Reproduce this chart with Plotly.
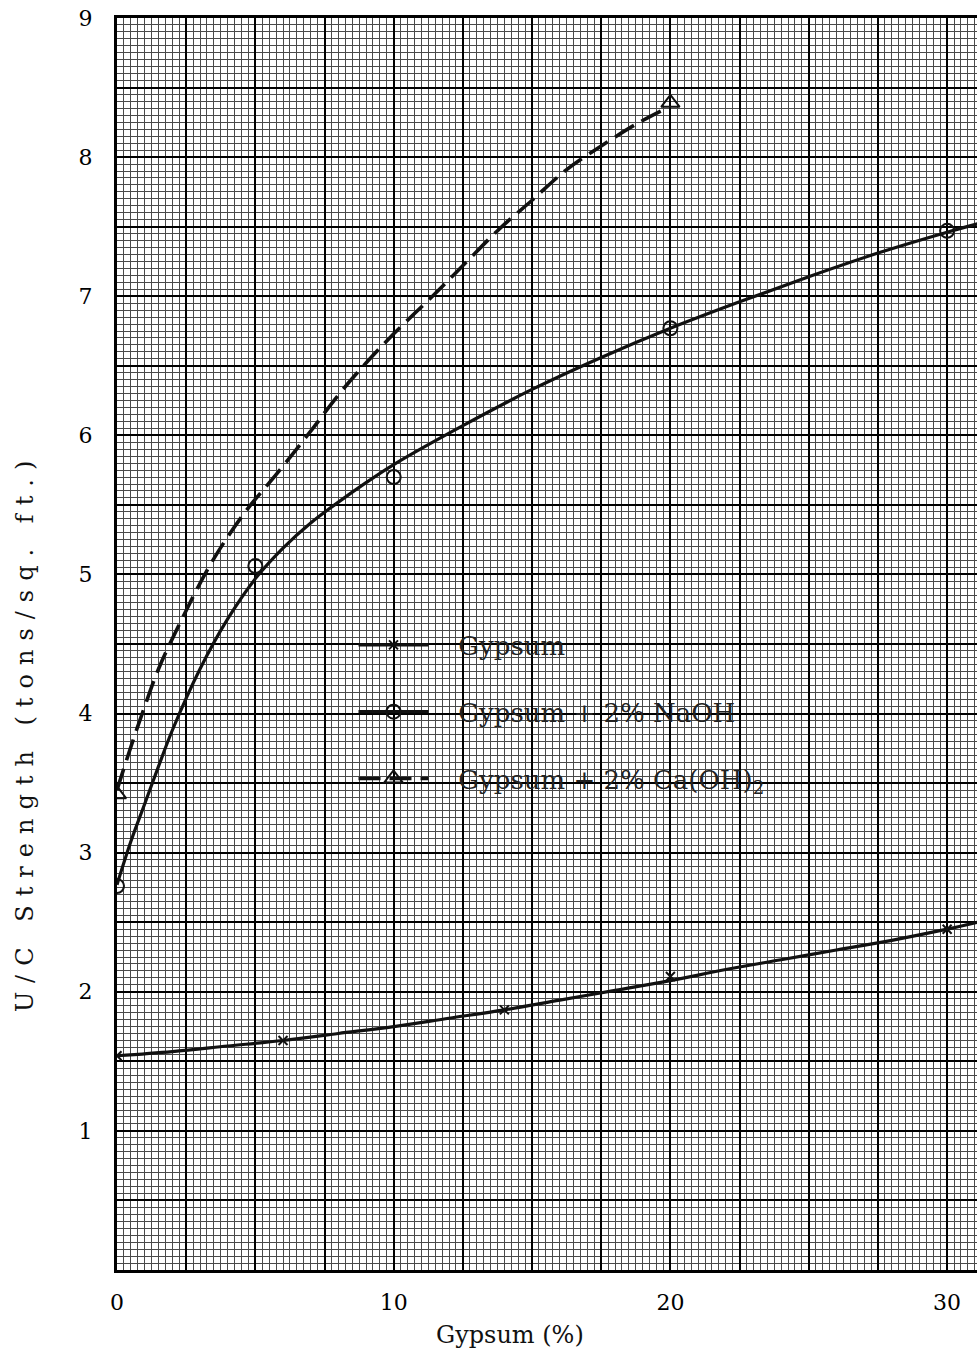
import numpy as np
import plotly.graph_objects as go

# ---- measured points ----
GYP_X = [0, 6, 14, 20, 30]
GYP_Y = [1.54, 1.65, 1.87, 2.11, 2.45]
NAOH_X = [0, 5, 10, 20, 30]
NAOH_Y = [2.76, 5.06, 5.70, 6.77, 7.47]
CA_X = [0, 20]
CA_Y = [3.42, 8.39]

# ---- hand-drawn fitted curves ----
GYP_CURVE_X = [0, 2, 4, 6, 8, 10, 12, 14, 16, 18, 20, 22, 24, 26, 28, 30, 31.1]
GYP_CURVE_Y = [1.54, 1.57, 1.61, 1.65, 1.70, 1.75, 1.81, 1.87, 1.94, 2.01, 2.08, 2.16, 2.23, 2.30, 2.37, 2.45, 2.50]
NAOH_CURVE_X = [0, 0.5, 1, 1.5, 2, 3, 4, 5, 6, 7, 8, 9, 10, 12.5, 15, 17.5, 20, 22.5, 25, 27.5, 30, 31.1]
NAOH_CURVE_Y = [2.77, 3.08, 3.35, 3.62, 3.88, 4.32, 4.68, 4.97, 5.19, 5.37, 5.52, 5.66, 5.79, 6.07, 6.33, 6.56, 6.77, 6.96, 7.14, 7.31, 7.46, 7.52]
CA_CURVE_X = [0, 0.5, 1, 1.5, 2.2, 3.4, 4.6, 5.8, 7, 8, 9, 10, 11.4, 12.6, 13.8, 15, 16.25, 17.5, 18.7, 19.65]
CA_CURVE_Y = [3.45, 3.76, 4.05, 4.32, 4.62, 5.08, 5.44, 5.73, 6.03, 6.29, 6.52, 6.73, 7.0, 7.24, 7.48, 7.69, 7.91, 8.08, 8.23, 8.33]

SERIES_NAMES = ["Gypsum", "Gypsum + 2% NaOH", "Gypsum + 2% Ca(OH)<sub>2</sub>"]

X_TICKS = [0, 10, 20, 30]
X_LABELS = ["0", "10", "20", "30"]
Y_TICKS = [1, 2, 3, 4, 5, 6, 7, 8, 9]
Y_LABELS = ["1", "2", "3", "4", "5", "6", "7", "8", "9"]

X_TITLE = "Gypsum (%)"
Y_TITLE = "U/C Strength (tons/sq. ft.)"

FONT = "DejaVu Serif"
INK = "#111111"

# graph-paper grid (heavy lines every 2.5 % and 0.5 t/sq.ft.)
x_grid = np.round(np.arange(0, 31.1, 2.5), 3)
y_grid = np.round(np.arange(0, 9.01, 0.5), 3)
x_text = [X_LABELS[X_TICKS.index(v)] if v in X_TICKS else "" for v in x_grid]
y_text = [Y_LABELS[Y_TICKS.index(v)] if v in Y_TICKS else "" for v in y_grid]

styles = [
    dict(line=dict(color=INK, width=3.2), marker=dict(symbol="x-thin-open", size=9, line=dict(width=2, color=INK), color=INK)),
    dict(line=dict(color=INK, width=3.2), marker=dict(symbol="circle-open", size=14, line=dict(width=2, color=INK), color=INK)),
    dict(line=dict(color=INK, width=3.6, dash="22px,9px"), marker=dict(symbol="triangle-up-open", size=16, line=dict(width=2, color=INK), color=INK)),
]

curves = [(GYP_CURVE_X, GYP_CURVE_Y), (NAOH_CURVE_X, NAOH_CURVE_Y), (CA_CURVE_X, CA_CURVE_Y)]
points = [(GYP_X, GYP_Y), (NAOH_X, NAOH_Y), (CA_X, CA_Y)]

PAD = "\u00a0\u00a0\u00a0"

fig = go.Figure()
for i, ((cx, cy), (px, py), st, nm) in enumerate(zip(curves, points, styles, SERIES_NAMES)):
    fig.add_trace(go.Scatter(x=cx, y=cy, mode="lines", line_shape="spline", line=st["line"],
                             showlegend=False, hoverinfo="skip"))
    fig.add_trace(go.Scatter(x=px, y=py, mode="markers", marker=st["marker"], showlegend=False, name=nm))
    fig.add_trace(go.Scatter(x=[None], y=[None], mode="lines+markers", name=PAD + nm,
                             line=st["line"], marker=st["marker"], legendgroup=str(i), showlegend=True))

fig.update_layout(
    width=977, height=1353,
    margin=dict(l=117, r=0, t=18, b=83),
    plot_bgcolor="white", paper_bgcolor="white",
    font=dict(family=FONT, color=INK),
    legend=dict(x=0.275, y=0.518, xanchor="left", yanchor="top", bgcolor="rgba(0,0,0,0)",
                font=dict(size=26, family=FONT, color="#222"), tracegroupgap=30, itemwidth=70,
                traceorder="grouped"),
    annotations=[
        dict(text=Y_TITLE, xref="paper", yref="paper", x=-0.107, y=0.43, textangle=-90,
             showarrow=False, xanchor="center", yanchor="middle", font=dict(size=24, family=FONT, color=INK)),
        dict(text=X_TITLE, xref="paper", yref="paper", x=0.457, y=-0.052, showarrow=False,
             xanchor="center", yanchor="middle", font=dict(size=24, family=FONT, color=INK)),
    ],
)

fig.update_xaxes(range=[0, 31.08], tickmode="array", tickvals=x_grid, ticktext=x_text,
                 showgrid=True, gridcolor="#000000", gridwidth=2,
                 minor=dict(tick0=0, dtick=0.25, showgrid=True, gridcolor="#4a4a4a", gridwidth=1, ticks=""),
                 showline=True, linecolor="#000000", linewidth=3, mirror=True, ticks="",
                 zeroline=False, tickfont=dict(size=22, family=FONT, color="#000"), ticklabelstandoff=11)
fig.update_yaxes(range=[0, 9], tickmode="array", tickvals=y_grid, ticktext=y_text,
                 showgrid=True, gridcolor="#000000", gridwidth=2,
                 minor=dict(tick0=0, dtick=0.05, showgrid=True, gridcolor="#4a4a4a", gridwidth=1, ticks=""),
                 showline=True, linecolor="#000000", linewidth=3, mirror=False, ticks="",
                 zeroline=False, tickfont=dict(size=22, family=FONT, color="#000"), ticklabelstandoff=17)

post = """
document.body.style.margin = '0';
document.documentElement.style.overflow = 'hidden';
var gd = document.getElementById('{plot_id}');
function spaceTitle(){
  var els = gd.querySelectorAll('.annotation-text');
  els.forEach(function(e){ if (e.textContent.indexOf('Strength') >= 0) { e.style.letterSpacing = '9px'; } });
}
spaceTitle();
gd.on('plotly_afterplot', spaceTitle);
"""

fig.write_html("out.html", post_script=post, config={"displayModeBar": False})
